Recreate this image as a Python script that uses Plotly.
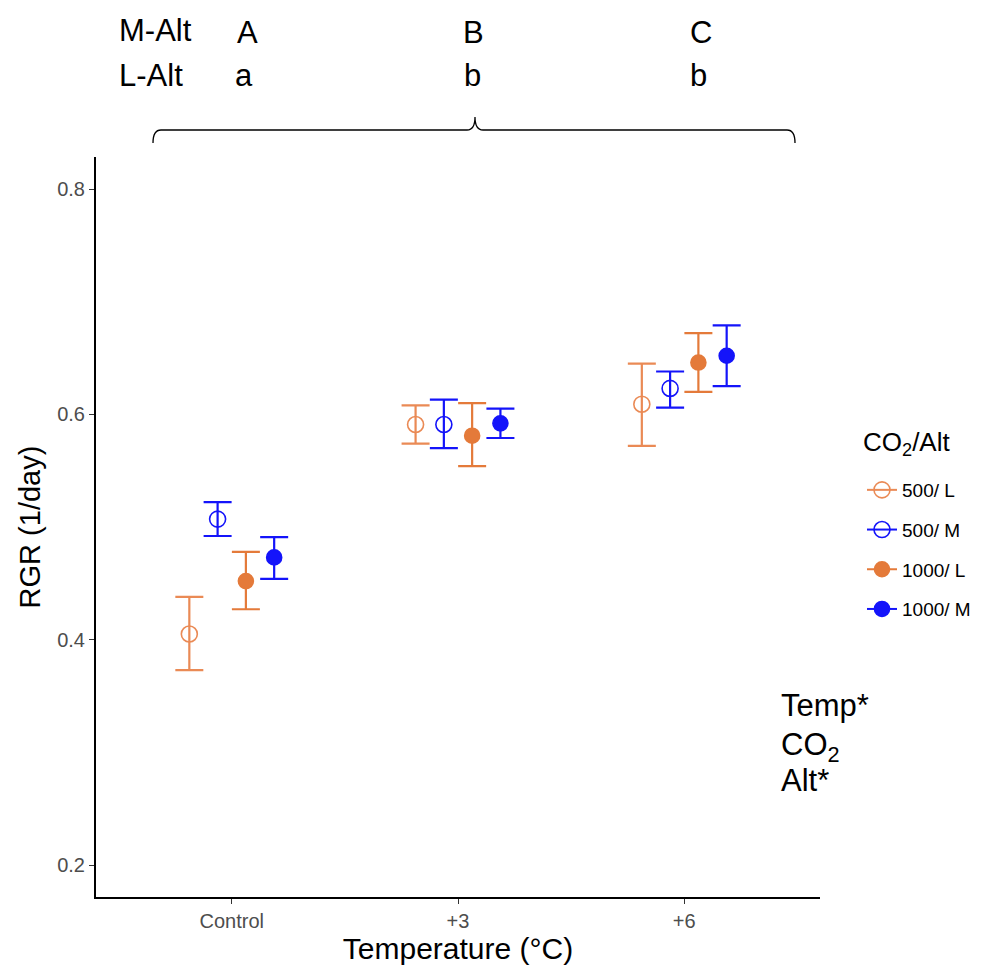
import plotly.graph_objects as go

# ---------------- data ----------------
categories = ["Control", "+3", "+6"]
groups = ["500/ L", "500/ M", "1000/ L", "1000/ M"]

mean_500_L = [0.405, 0.591, 0.609]
mean_500_M = [0.507, 0.591, 0.623]
mean_1000_L = [0.452, 0.581, 0.646]
mean_1000_M = [0.473, 0.592, 0.652]

upper_500_L = [0.438, 0.608, 0.645]
upper_500_M = [0.522, 0.613, 0.638]
upper_1000_L = [0.478, 0.610, 0.672]
upper_1000_M = [0.491, 0.605, 0.679]

lower_500_L = [0.373, 0.574, 0.572]
lower_500_M = [0.492, 0.570, 0.606]
lower_1000_L = [0.427, 0.554, 0.620]
lower_1000_M = [0.454, 0.579, 0.625]

y_ticks = [0.2, 0.4, 0.6, 0.8]
m_alt_letters = ["A", "B", "C"]
l_alt_letters = ["a", "b", "b"]
effects = ["Temp*", "CO<sub>2</sub>", "Alt*"]
legend_title = "CO<sub>2</sub>/Alt"

# ---------------- styling ----------------
ORANGE = "#E47A3A"
ORANGE_LIGHT = "#EA8A55"
BLUE = "#1414FA"
FONT = "Liberation Sans, Arial, sans-serif"

W, H = 983, 967
L, R, T, B = 96, 820, 157, 897  # plot area in pixels


def px(x):
    return (x - L) / (R - L)


def py(y):
    return (B - y) / (B - T)


series = [
    (groups[0], mean_500_L, upper_500_L, lower_500_L, ORANGE_LIGHT, "circle-open", -0.1875),
    (groups[1], mean_500_M, upper_500_M, lower_500_M, BLUE, "circle-open", -0.0625),
    (groups[2], mean_1000_L, upper_1000_L, lower_1000_L, ORANGE, "circle", 0.0625),
    (groups[3], mean_1000_M, upper_1000_M, lower_1000_M, BLUE, "circle", 0.1875),
]

fig = go.Figure()
for i, (name, m, up, lo, col, sym, off) in enumerate(series):
    xs = [k + 1 + off for k in range(len(categories))]
    fig.add_trace(go.Scatter(
        x=xs, y=m, mode="markers", name=name, showlegend=False,
        marker=dict(symbol=sym, size=15 if sym == "circle" else 16, color=col,
                    line=dict(color=col, width=1.6)),
        error_y=dict(type="data", symmetric=False,
                     array=[u - v for u, v in zip(up, m)],
                     arrayminus=[v - d for v, d in zip(m, lo)],
                     color=col, thickness=2.2, width=14),
    ))
    # legend entry (ggplot-style key with horizontal line)
    fig.add_trace(go.Scatter(
        x=[None], y=[None], mode="lines+markers", name=name, legendgroup=f"g{i}",
        line=dict(color=col, width=2),
        marker=dict(symbol=sym, size=15 if sym == "circle" else 16, color=col,
                    line=dict(color=col, width=1.6)),
    ))

annotations = []
# top significance letters
annotations.append(dict(text="M-Alt", x=px(117), y=py(30), xanchor="left", yanchor="middle"))
annotations.append(dict(text="L-Alt", x=px(117), y=py(76), xanchor="left", yanchor="middle"))
for letter, xc in zip(m_alt_letters, [247, 473, 701]):
    annotations.append(dict(text=letter, x=px(xc), y=py(32), xanchor="center", yanchor="middle"))
for letter, xc in zip(l_alt_letters, [244, 472, 698]):
    annotations.append(dict(text=letter, x=px(xc), y=py(76), xanchor="center", yanchor="middle"))
for txt, yc in zip(effects, [705, 747, 780]):
    annotations.append(dict(text=txt, x=px(779), y=py(yc), xanchor="left", yanchor="middle"))

for a in annotations:
    a.update(xref="paper", yref="paper", showarrow=False,
             font=dict(family=FONT, size=31, color="black"))

# legend title
annotations.append(dict(text=legend_title, x=px(861), y=py(443), xanchor="left", yanchor="middle",
                        xref="paper", yref="paper", showarrow=False,
                        font=dict(family=FONT, size=26, color="black")))

# curly bracket
pts = [(153, 143), (153, 130), (161, 130), (467, 130), (475, 130), (475, 117),
       (475, 130), (483, 130), (787, 130), (795, 130), (795, 143)]
P = [(px(a), py(b)) for a, b in pts]
path = (f"M {P[0][0]},{P[0][1]} Q {P[1][0]},{P[1][1]} {P[2][0]},{P[2][1]} "
        f"L {P[3][0]},{P[3][1]} Q {P[4][0]},{P[4][1]} {P[5][0]},{P[5][1]} "
        f"Q {P[6][0]},{P[6][1]} {P[7][0]},{P[7][1]} L {P[8][0]},{P[8][1]} "
        f"Q {P[9][0]},{P[9][1]} {P[10][0]},{P[10][1]}")

fig.update_layout(
    width=W, height=H,
    margin=dict(l=L, r=W - R, t=T, b=H - B, autoexpand=False),
    paper_bgcolor="white", plot_bgcolor="white",
    font=dict(family=FONT, color="black"),
    annotations=annotations,
    shapes=[dict(type="path", path=path, xref="paper", yref="paper",
                 line=dict(color="black", width=1.3))],
    legend=dict(
        font=dict(size=19, family=FONT, color="black"),
        x=px(862), y=py(471), xanchor="left", yanchor="top",
        tracegroupgap=12, bgcolor="rgba(0,0,0,0)",
    ),
    xaxis=dict(
        range=[0.4, 3.6], tickvals=[1, 2, 3], ticktext=categories,
        showline=True, linecolor="black", linewidth=2, mirror=False,
        ticks="outside", ticklen=5, tickwidth=1.2, tickcolor="#333333",
        showgrid=False, zeroline=False, automargin=False,
        tickfont=dict(size=20, family=FONT, color="#4D4D4D"),
        title=dict(text="Temperature (°C)", font=dict(size=30, family=FONT, color="black"),
                   standoff=6),
    ),
    yaxis=dict(
        range=[0.1716, 0.8284], tickvals=y_ticks, ticktext=[f"{v:.1f}" for v in y_ticks],
        showline=True, linecolor="black", linewidth=2,
        ticks="outside", ticklen=5, tickwidth=1.2, tickcolor="#333333",
        showgrid=False, zeroline=False, automargin=False,
        tickfont=dict(size=20, family=FONT, color="#4D4D4D"),
        title=dict(text="RGR (1/day)", font=dict(size=29, family=FONT, color="black"),
                   standoff=8),
    ),
)

fig.write_html("out.html")
